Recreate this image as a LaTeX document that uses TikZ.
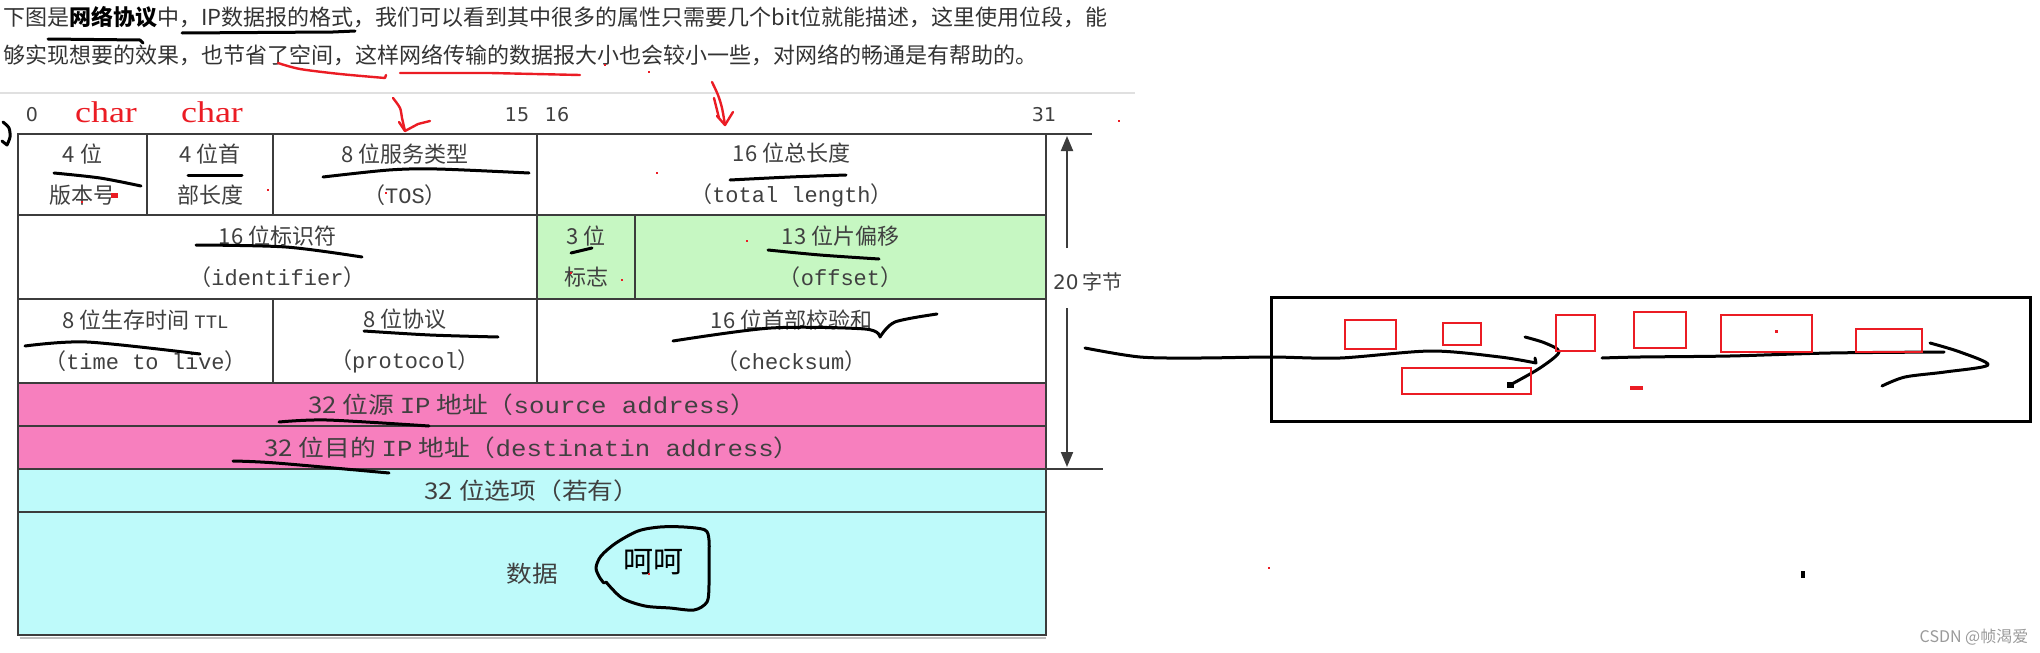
\documentclass[tikz,border=0pt]{standalone}
\usepackage{fontspec}
\setmainfont{Noto Sans CJK SC}
\newfontfamily\tmono{Liberation Mono}
\newfontfamily\redserif{Liberation Serif}
\newfontfamily\numsans{DejaVu Sans}
\usetikzlibrary{arrows.meta}
\definecolor{txtgray}{HTML}{404040}
\definecolor{bordergray}{HTML}{3C3C3C}
\definecolor{fragGreen}{HTML}{C6F7C2}
\definecolor{addrPink}{HTML}{F77FBE}
\definecolor{optCyan}{HTML}{BEFAFA}
\definecolor{penRed}{HTML}{EB1C24}
\definecolor{headText}{HTML}{333333}
\definecolor{wmGray}{HTML}{9A9A9A}
\begin{document}
\begin{tikzpicture}[x=1pt,y=-1pt,
  cellbox/.style={draw=bordergray, line width=2.4pt, inner sep=0pt, outer sep=0pt,
    anchor=north west, align=center, text=txtgray, font=\fontsize{22}{41}\selectfont},
  rowtext/.style={font=\fontsize{23}{26}\selectfont},
  tableline/.style={draw=bordergray, line width=2.4pt},
  pen/.style={draw=black, line width=3pt, line cap=round, line join=round},
  redpen/.style={draw=penRed, line width=2.4pt, line cap=round, line join=round},
  redbox/.style={draw=penRed, line width=2.2pt},
  bitnum/.style={text=txtgray, font=\numsans\fontsize{19}{22}\selectfont},
  redlabel/.style={text=penRed, font=\redserif\fontsize{30}{32}\selectfont},
  headline/.style={anchor=west, text=headText, font=\fontsize{22}{26}\selectfont, inner sep=0pt}]
\useasboundingbox (0,0) rectangle (2040,653);
\fill[white] (0,0) rectangle (2040,653);

% header text
\node[headline] (line1) at (3,17) {下图是{\color{black}\textbf{网络协议}}中，IP数据报的格式，我们可以看到其中很多的属性只需要几个bit位就能描述，这里使用位段，能};
\node[headline] (line2) at (3,55) {够实现想要的效果，也节省了空间，这样网络传输的数据报大小也会较小一些，对网络的畅通是有帮助的。};
\draw[black!12, line width=1.5pt] (0,93) -- (1135,93);

% bit numbers
\node[bitnum] (b0) at (32,115) {0};
\node[bitnum] (b15) at (517,115) {15};
\node[bitnum] (b16) at (557,115) {16};
\node[bitnum] (b31) at (1044,115) {31};
\node[redlabel] (char1) at (106,112) {\scalebox{1.2}[1]{char}};
\node[redlabel] (char2) at (212,112) {\scalebox{1.2}[1]{char}};

% row 1
\node[cellbox, minimum width=129pt, minimum height=81pt] (ver) at (18,134) {4 位\\版本号};
\node[cellbox, minimum width=126pt, minimum height=81pt] (ihl) at (147,134) {4 位首\\部长度};
\node[cellbox, minimum width=264pt, minimum height=81pt] (tos) at (273,134) {8 位服务类型\\（{\tmono TOS}）};
\node[cellbox, minimum width=509pt, minimum height=81pt] (tot) at (537,134) {16 位总长度\\（{\tmono total length}）};
% row 2
\node[cellbox, minimum width=519pt, minimum height=84pt] (ident) at (18,215) {16 位标识符\\（{\tmono identifier}）};
\node[cellbox, fill=fragGreen, minimum width=98pt, minimum height=84pt] (flag) at (537,215) {3 位\\标志};
\node[cellbox, fill=fragGreen, minimum width=411pt, minimum height=84pt] (off) at (635,215) {13 位片偏移\\（{\tmono offset}）};
% row 3
\node[cellbox, minimum width=255pt, minimum height=84pt] (ttl) at (18,299) {8 位生存时间 {\tmono\fontsize{19}{20}\selectfont TTL}\\（{\tmono time to live}）};
\node[cellbox, minimum width=264pt, minimum height=84pt] (proto) at (273,299) {8 位协议\\（{\tmono protocol}）};
\node[cellbox, minimum width=509pt, minimum height=84pt] (chk) at (537,299) {16 位首部校验和\\（{\tmono checksum}）};
% rows 4-7
\node[cellbox, rowtext, fill=addrPink, minimum width=1028pt, minimum height=43pt] (src) at (18,383) {\scalebox{1.12}[1]{32 位源 {\tmono IP} 地址（{\tmono source address}）}};
\node[cellbox, rowtext, fill=addrPink, minimum width=1028pt, minimum height=43pt] (dst) at (18,426) {\scalebox{1.12}[1]{32 位目的 {\tmono IP} 地址（{\tmono destinatin address}）}};
\node[cellbox, rowtext, fill=optCyan, minimum width=1028pt, minimum height=43pt] (opt) at (18,469) {\scalebox{1.12}[1]{32 位选项（若有）}};
\node[cellbox, rowtext, fill=optCyan, minimum width=1028pt, minimum height=123pt] (data) at (18,512) {\scalebox{1.12}[1]{数据}};
\draw[black!25, line width=2pt] (20,638) -- (1046,638);

% extended lines and size arrow
\coordinate (topext) at (1092,134);
\coordinate (botext) at (1103,469);
\draw[tableline] (tot.north east) -- (topext);
\draw[tableline] (dst.south east) -- (botext);
\node[text=txtgray, font=\fontsize{20}{24}\selectfont] (bytes) at (1088,282) {{\numsans 20} 字节};
\coordinate (arrTop) at (1067,136);
\coordinate (arrUp) at (1067,248);
\coordinate (arrDn) at (1067,308);
\coordinate (arrBot) at (1067,467);
\draw[draw=bordergray, line width=2pt, -{Triangle[length=15pt,width=12pt]}] (arrUp) -- (arrTop);
\draw[draw=bordergray, line width=2pt, -{Triangle[length=15pt,width=12pt]}] (arrDn) -- (arrBot);

% 呵呵 with circle
\node[text=black, font=\fontsize{30}{32}\selectfont] (hehe) at (653,562) {呵呵};
\draw[pen] plot[smooth] coordinates {(606,582) (622,598) (645,606) (670,608) (694,610) (707,602) (709,585) (709,560) (709,540) (705,530) (684,527) (660,527) (638,531) (616,543) (601,556) (596,568) (600,578) (604,583)};

% black handwritten underlines
\draw[pen] (48,39) -- (140,40) -- (143,43);
\draw[pen] (182,33) -- (333,32) -- (355,31);
\draw[pen] plot[smooth] coordinates {(54,173) (100,178) (141,186)};
\draw[pen] (188,175) -- (242,175);
\draw[pen] plot[smooth] coordinates {(323,177) (389,170) (437,169) (529,173)};
\draw[pen] plot[smooth] coordinates {(730,180) (790,177) (846,175)};
\draw[pen] plot[smooth] coordinates {(196,245) (286,247) (362,257)};
\draw[pen] (571,253) -- (592,248);
\draw[pen] plot[smooth] coordinates {(768,250) (820,255) (879,259)};
\draw[pen] plot[smooth] coordinates {(25,346) (87,342) (200,354)};
\draw[pen] plot[smooth] coordinates {(364,331) (430,335) (498,337)};
\draw[pen] plot[smooth] coordinates {(673,341) (771,328) (865,329) (880,337)};
\draw[pen] plot[smooth] coordinates {(880,337) (895,322) (937,314)};
\draw[pen] plot[smooth] coordinates {(279,422) (327,420) (429,426)};
\draw[pen] plot[smooth] coordinates {(233,461) (276,463) (389,473)};
\draw[pen] plot[smooth] coordinates {(3,122) (9,128) (10,137) (7,145)} -- (2,141);

% right-hand sketch
\draw[draw=black, line width=3pt] (1271,297) rectangle (2030,421);
\draw[pen] plot[smooth] coordinates {(1085,348) (1140,357) (1200,358) (1271,357) (1340,358) (1431,351) (1500,357) (1536,363)} -- (1535,358);
\draw[pen] plot[smooth] coordinates {(1525,337) (1545,343) (1559,352) (1540,368) (1510,385)};
\fill[black] (1507,382) rectangle (1514,388);
\draw[pen] plot[smooth] coordinates {(1602,358) (1640,357) (1730,356) (1830,353) (1944,352)};
\draw[pen] plot[smooth] coordinates {(1930,343) (1960,352) (1988,365) (1945,372) (1905,377) (1882,386)};
\draw[redbox] (1345,320) rectangle (1396,349);
\draw[redbox] (1443,323) rectangle (1481,345);
\draw[redbox] (1556,315) rectangle (1595,351);
\draw[redbox] (1634,312) rectangle (1686,348);
\draw[redbox] (1721,315) rectangle (1812,352);
\draw[redbox] (1856,329) rectangle (1922,352);
\draw[redbox] (1402,368) rectangle (1531,394);
\fill[penRed] (1630,386) rectangle (1643,390);
\fill[penRed] (1775,330) rectangle (1778,333);
\fill[black] (1801,571) rectangle (1805,578);
\fill[penRed] (1268,567) rectangle (1270,569);

% red pen marks
\draw[redpen] plot[smooth] coordinates {(278,63) (300,69) (340,74) (385,78)} -- (386,75);
\draw[redpen] (400,73) -- (490,73) -- (580,75);
\draw[redpen] plot[smooth] coordinates {(393,98) (400,108) (402,118) (405,131)};
\draw[redpen] (399,122) -- (405,131) -- (418,124) -- (430,121);
\draw[redpen] plot[smooth] coordinates {(712,82) (718,95) (722,108) (725,125)};
\draw[redpen] (714,98) -- (719,118);
\draw[redpen] (717,116) -- (725,125) -- (733,112);
\foreach \px/\py in {605/65, 649/72, 1119/121, 657/173, 747/241, 622/280, 571/273, 649/574, 82/202, 268/190, 386/193}
  \fill[penRed] (\px-1.3,\py-1.3) rectangle (\px+1.3,\py+1.3);
\fill[penRed] (111,193) rectangle (118,198);

% watermark
\node[text=wmGray, font=\fontsize{16}{18}\selectfont] (wm) at (1974,637) {CSDN @帧渴爱};
\end{tikzpicture}
\end{document}
